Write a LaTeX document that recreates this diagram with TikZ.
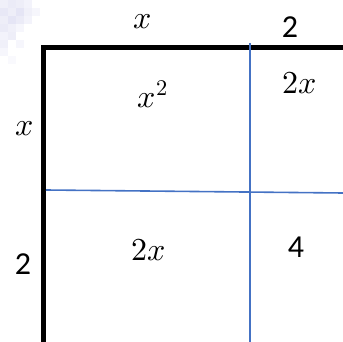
\documentclass[tikz,border=0pt]{standalone}
\usepackage{fontspec}
\usepackage{unicode-math}
\setmathfont{Latin Modern Math}
\newfontfamily\digitfont{Carlito}
\usetikzlibrary{positioning}
\definecolor{gridblue}{RGB}{68,114,196}
\definecolor{smudge}{RGB}{226,226,244}

\begin{document}
\begin{tikzpicture}[x=1pt, y=-1pt,
  thickline/.style={line width=5pt, black},
  gridline/.style={line width=1.6pt, gridblue},
  lbl/.style={inner sep=0pt, font=\fontsize{32}{36}\selectfont},
  num/.style={lbl, font=\fontsize{32}{36}\selectfont\digitfont}
]
\useasboundingbox (0,0) rectangle (343,342);
% faint smudge in the corner
\foreach \px/\py/\op in {0/0/0.5, 8/0/0.7, 16/0/0.6, 24/0/0.4, 0/8/0.8, 8/8/0.6, 16/8/0.9, 24/8/0.5, 32/8/0.3,
  0/16/0.6, 8/16/0.9, 16/16/0.7, 24/16/0.4, 0/24/0.7, 8/24/0.5, 16/24/0.3, 0/32/0.4, 8/32/0.6,
  0/40/0.5, 16/40/0.3, 0/48/0.3, 8/56/0.2}
  \fill[smudge, opacity=\op] (\px,\py) rectangle ++(8,8);
% frame
\coordinate (corner) at (43.5,47.5);
\coordinate (topend) at (343,47.5);
\coordinate (leftend) at (43.5,342);
\draw[thickline] (topend) -- (corner) -- (leftend);
% dividers
\coordinate (vtop) at (250,43);
\coordinate (vbot) at (250,342);
\coordinate (hleft) at (46,190);
\coordinate (hright) at (343,193);
\draw[gridline] (vtop) -- (vbot);
\draw[gridline] (hleft) -- (hright);
% side labels
\node[lbl] (topx) at (143,22) {$x$};
\node[num] (toptwo) at (290,27) {2};
\node[lbl] (leftx) at (25,129) {$x$};
\node[num] (lefttwo) at (23,264) {2};
% areas
\node[lbl] (xsq) at (153,94) {$x^2$};
\node[lbl] (twoxright) at (300,83) {$2x$};
\node[lbl] (twoxlow) at (149,250) {$2x$};
\node[num] (four) at (296,247) {4};
\end{tikzpicture}
\end{document}
